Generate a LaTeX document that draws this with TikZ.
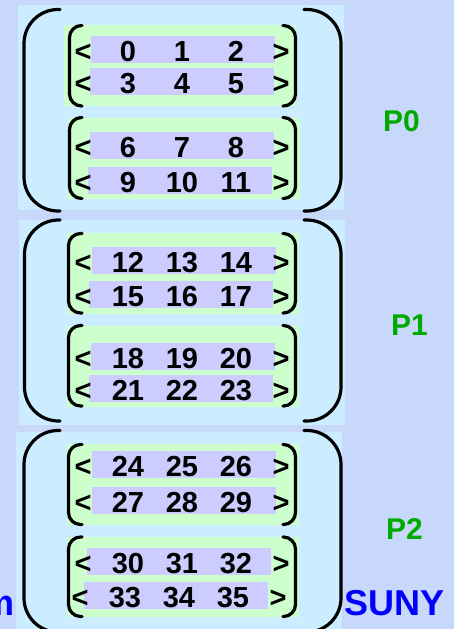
\documentclass[tikz,border=0pt]{standalone}
\usepackage{fontspec}
\setmainfont{Liberation Sans}
\definecolor{pagebg}{RGB}{200,216,250}
\definecolor{panelbg}{RGB}{204,236,255}
\definecolor{groupbg}{RGB}{204,255,204}
\definecolor{rowbg}{RGB}{204,204,255}
\definecolor{procgreen}{RGB}{0,170,0}
\definecolor{sunyblue}{RGB}{0,0,255}

% one row of three numbers: name, row left, row top, x of "<", numbers
\newcommand{\numrow}[7]{%
  \node[rowbox, anchor=north west] (#1) at (#2,#3) {};
  \node[digit] (#1-l) at (#4,#3+25.5) {<};
  \node[digit] (#1-a) at (#4+45,#3+25.5) {#5};
  \node[digit] (#1-b) at (#4+99,#3+25.5) {#6};
  \node[digit] (#1-c) at (#4+153,#3+25.5) {#7};
  \node[digit] (#1-r) at (#4+198,#3+25.5) {>};
}
% pair of round brackets: left x, left end x, right x, right end x, top, bottom, radius
\newcommand{\brackets}[7]{%
  \draw[bracket, rounded corners=#7] (#2,#5) -- (#1,#5) -- (#1,#6) -- (#2,#6);
  \draw[bracket, rounded corners=#7] (#4,#5) -- (#3,#5) -- (#3,#6) -- (#4,#6);
}

\begin{document}
\begin{tikzpicture}[x=1pt, y=-1pt,
  rowbox/.style={fill=rowbg, draw=none, minimum width=184pt, minimum height=27pt, inner sep=0pt},
  digit/.style={anchor=base, inner sep=0pt, font=\fontsize{29}{30}\selectfont\bfseries},
  bracket/.style={draw=black, line width=3.2pt, line cap=round},
  proc/.style={anchor=base west, inner sep=0pt, text=procgreen, font=\fontsize{30}{32}\selectfont\bfseries},
  brand/.style={inner sep=0pt, text=sunyblue, font=\fontsize{36}{38}\selectfont\bfseries}]

\useasboundingbox (0,0) rectangle (454,629);
\clip (0,0) rectangle (454,629);
\fill[pagebg] (0,0) rectangle (454,629);

% processor panels
\fill[panelbg] (18,5) rectangle (344,210);
\fill[panelbg] (19,220) rectangle (345,425);
\fill[panelbg] (16,432) rectangle (342,640);

% groups of two rows
\fill[groupbg] (64,25) rectangle (296,106);
\fill[groupbg] (68,118) rectangle (300,199);
\fill[groupbg] (67,233) rectangle (299,314);
\fill[groupbg] (67,326) rectangle (299,407);
\fill[groupbg] (67,444) rectangle (299,525);
\fill[groupbg] (67,537) rectangle (299,617);

% rows
\numrow{r0}{91}{36}{83}{0}{1}{2}
\numrow{r1}{90}{68}{83}{3}{4}{5}
\numrow{r2}{90}{132}{83}{6}{7}{8}
\numrow{r3}{88}{167}{83}{9}{10}{11}
\numrow{r4}{92}{247}{83}{12}{13}{14}
\numrow{r5}{89}{281}{83}{15}{16}{17}
\numrow{r6}{91}{343}{83}{18}{19}{20}
\numrow{r7}{89}{375}{83}{21}{22}{23}
\numrow{r8}{92}{451}{83}{24}{25}{26}
\numrow{r9}{92}{487}{83}{27}{28}{29}
\numrow{r10}{87}{548}{83}{30}{31}{32}
\numrow{r11}{84}{582}{80}{33}{34}{35}

% inner brackets
\brackets{69.5}{82}{295.5}{283}{25.5}{106}{12pt}
\brackets{69.5}{82}{295.5}{283}{117.5}{198.5}{12pt}
\brackets{68.5}{82}{295.5}{283}{233.5}{313}{12pt}
\brackets{68.5}{82}{295.5}{283}{325.5}{406}{12pt}
\brackets{68.5}{82}{295.5}{283}{444.5}{524.5}{12pt}
\brackets{68.5}{82}{295.5}{283}{537}{616.5}{12pt}

% outer brackets
\brackets{24}{60}{341}{304}{9.5}{211}{34pt}
\brackets{24.5}{60}{341}{304}{220}{421}{34pt}
\brackets{24}{60}{341}{304}{430.5}{632}{34pt}

% labels
\node[proc] (p0) at (383,131) {P0};
\node[proc] (p1) at (391,335) {P1};
\node[proc] (p2) at (386,539) {P2};
\node[brand, anchor=base west] (suny) at (344.5,615) {SUNY};
\node[brand, anchor=base east] (tail) at (15,615) {m};
\end{tikzpicture}
\end{document}
